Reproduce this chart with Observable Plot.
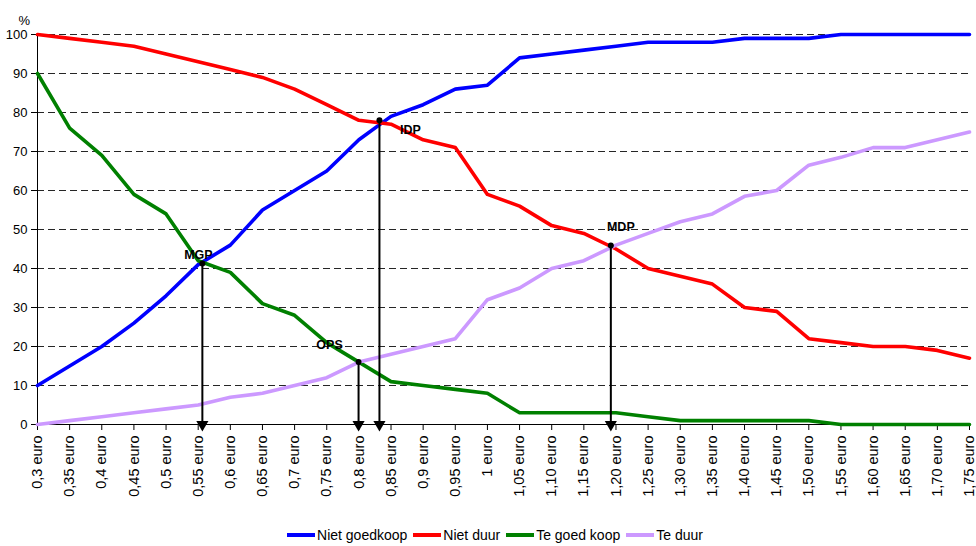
<!DOCTYPE html>
<html>
<head>
<meta charset="utf-8">
<script src="https://cdn.jsdelivr.net/npm/d3@7"></script>
<script src="https://cdn.jsdelivr.net/npm/@observablehq/plot@0.6"></script>
<style>
  html, body { margin: 0; padding: 0; background: #fff; }
  body { width: 976px; height: 546px; overflow: hidden; font-family: "Liberation Sans", Arial, sans-serif; }
  #legend { display: flex; justify-content: center; align-items: center; gap: 6px; font-size: 14px; color: #000; height: 26px; padding-left: 14px; margin-top: 2px; }
  .item { display: flex; align-items: center; gap: 2px; }
  .sw { display: inline-block; width: 28px; height: 4px; }
  svg g[aria-label="x-axis tick label"] text, svg g[aria-label="x-axis"] text { font-size: 14.5px; }
  svg g[aria-label="y-axis tick label"] text, svg g[aria-label="y-axis"] text { font-size: 13px; }
</style>
</head>
<body>
<div id="chart"></div>
<div id="legend"></div>
<script>
// Price categories (numeric position) and their tick labels
const prices = [0.30,0.35,0.40,0.45,0.50,0.55,0.60,0.65,0.70,0.75,0.80,0.85,0.90,0.95,1.00,1.05,1.10,1.15,1.20,1.25,1.30,1.35,1.40,1.45,1.50,1.55,1.60,1.65,1.70,1.75];
const tickLabels = ["0,3 euro","0,35 euro","0,4 euro","0,45 euro","0,5 euro","0,55 euro","0,6 euro","0,65 euro","0,7 euro","0,75 euro","0,8 euro","0,85 euro","0,9 euro","0,95 euro","1 euro","1,05 euro","1,10 euro","1,15 euro","1,20 euro","1,25 euro","1,30 euro","1,35 euro","1,40 euro","1,45 euro","1,50 euro","1,55 euro","1,60 euro","1,65 euro","1,70 euro","1,75 euro"];

// Series (percent)
const nietGoedkoop = [10,15,20,26,33,41,46,55,60,65,73,79,82,86,87,94,95,96,97,98,98,98,99,99,99,100,100,100,100,100];
const nietDuur     = [100,99,98,97,95,93,91,89,86,82,78,77,73,71,59,56,51,49,45,40,38,36,30,29,22,21,20,20,19,17];
const teGoedKoop   = [90,76,69,59,54,42,39,31,28,21,16,11,10,9,8,3,3,3,3,2,1,1,1,1,1,0,0,0,0,0];
const teDuur       = [0,1,2,3,4,5,7,8,10,12,16,18,20,22,32,35,40,42,46,49,52,54,58.5,60,66.5,68.5,71,71,73,75];

const seriesNames  = ["Niet goedkoop","Niet duur","Te goed koop","Te duur"];
const seriesColors = ["#0000FF","#FF0000","#008000","#CC99FF"];

// Annotated intersection points
const annNames = ["MGP","OPS","IDP","MDP"];
const annX     = [0.5565,0.7995,0.832,1.192];
const annY     = [41.3,16,78,45.9];

const yTicks = [0,10,20,30,40,50,60,70,80,90,100];

// Build tidy data
const allSeries = [nietGoedkoop, nietDuur, teGoedKoop, teDuur];
const rows = [];
allSeries.forEach((vals, s) => vals.forEach((v, i) => rows.push({series: seriesNames[s], x: prices[i], y: v})));
const ann = annNames.map((n, i) => ({name: n, x: annX[i], y: annY[i]}));
const labelOffset = {MGP: [-4, -8], OPS: [-29, -17], IDP: [31, 10], MDP: [10, -18]};

const chart = Plot.plot({
  width: 976,
  height: 520,
  marginLeft: 37,
  marginRight: 7,
  marginTop: 34,
  marginBottom: 96,
  style: {fontFamily: "'Liberation Sans', Arial, sans-serif", fontSize: "13px", color: "#000", background: "#fff"},
  x: {
    type: "linear",
    domain: [0.30, 1.75],
    ticks: prices,
    tickFormat: d => tickLabels[prices.indexOf(d)],
    tickRotate: -90,
    tickSize: 6,
    tickPadding: 5,
    label: null
  },
  y: {
    domain: [0, 100],
    ticks: yTicks,
    tickSize: 6,
    tickPadding: 4,
    label: null
  },
  color: {domain: seriesNames, range: seriesColors},
  marks: [
    Plot.ruleY(yTicks.filter(d => d > 0), {stroke: "#000", strokeWidth: 1, strokeDasharray: "7,4", strokeOpacity: 0.85}),
    Plot.ruleX([0.30], {y1: 0, y2: 100, stroke: "#000"}),
    Plot.ruleY([0], {stroke: "#000"}),
    Plot.line(rows, {x: "x", y: "y", z: "series", stroke: "series", strokeWidth: 3.6, strokeLinejoin: "round"}),
    Plot.ruleX(ann, {x: "x", y1: "y", y2: 0, stroke: "#000", strokeWidth: 2}),
    Plot.dot(ann, {x: "x", y: 0, symbol: "triangle", rotate: 180, r: 4.5, fill: "#000", stroke: "none", dy: 0}),
    Plot.dot(ann, {x: "x", y: "y", r: 3, fill: "#000", stroke: "none"}),
    ...ann.map(a => Plot.text([a], {x: "x", y: "y", text: "name", fontWeight: "bold", fontSize: 12.5, fill: "#000",
      dx: labelOffset[a.name][0], dy: labelOffset[a.name][1]})),
    Plot.text(["%"], {frameAnchor: "top-left", dx: -19, dy: -19, fontSize: 13, fill: "#000"})
  ]
});
document.getElementById("chart").appendChild(chart);

// Legend
const legend = document.getElementById("legend");
seriesNames.forEach((n, i) => {
  const it = document.createElement("span");
  it.className = "item";
  const sw = document.createElement("span");
  sw.className = "sw";
  sw.style.background = seriesColors[i];
  it.appendChild(sw);
  const t = document.createElement("span");
  t.textContent = n;
  it.appendChild(t);
  legend.appendChild(it);
});
</script>
</body>
</html>
